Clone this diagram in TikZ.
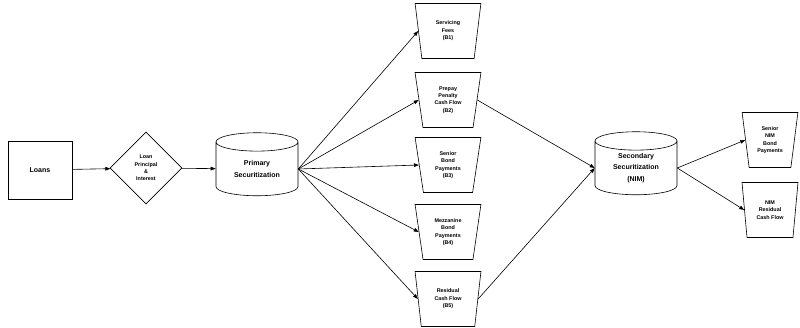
\documentclass[tikz,border=0pt]{standalone}
\usepackage{fontspec}
\setmainfont{Liberation Sans}
\usetikzlibrary{shapes.geometric, arrows.meta}

\tikzset{
  every node/.style={font=\bfseries, align=center, line width=0.6pt},
  bigtext/.style={font=\bfseries\fontsize{7}{11.5}\selectfont},
  smalltext/.style={font=\bfseries\fontsize{5.4}{7.4}\selectfont},
  box/.style={draw, rectangle, minimum width=64pt, minimum height=58pt, bigtext},
  diam/.style={draw, diamond, minimum width=72pt, minimum height=72pt, inner sep=0pt, smalltext},
  cyl/.style={draw, cylinder, shape border rotate=90, aspect=0.4,
    minimum width=82pt, minimum height=63pt, inner sep=0pt, bigtext},
  trap/.style={draw, trapezium, shape border rotate=180, trapezium stretches=true,
    trapezium left angle=81, trapezium right angle=81,
    minimum width=66pt, minimum height=55pt, inner sep=0pt, smalltext},
  flow/.style={line width=0.6pt, -{Triangle[length=5pt,width=3.6pt]}}
}

\begin{document}
\begin{tikzpicture}[x=1pt, y=-1pt]
  \useasboundingbox (0,0) rectangle (800,328);
  % left part
  \node[box] (loans) at (40,170) {Loans};
  \node[diam] (lpi) at (146,168) {Loan\\Principal\\\&\\Interest};
  \node[cyl] (primary) at (257,169) {Primary\\Securitization};
  % bonds of the primary deal
  \node[trap] (fees) at (448,31) {Servicing\\Fees\\(B1)};
  \node[trap] (prepay) at (448,100) {Prepay\\Penalty\\Cash Flow\\(B2)};
  \node[trap] (senior) at (448,165) {Senior\\Bond\\Payments\\(B3)};
  \node[trap] (mezz) at (448,232) {Mezzanine\\Bond\\Payments\\(B4)};
  \node[trap] (resid) at (448,299) {Residual\\Cash Flow\\(B5)};
  % NIM deal
  \node[cyl] (nim) at (636,168) {Secondary\\Securitization\\(NIM)};
  \node[trap, minimum width=56pt] (nimsenior) at (770,140) {Senior\\NIM\\Bond\\Payments};
  \node[trap, minimum width=56pt] (nimresid) at (770,210) {NIM\\Residual\\Cash Flow};

  \draw[flow] (loans) -- (lpi);
  \draw[flow] (lpi) -- (primary);
  \foreach \b in {fees, prepay, senior, mezz, resid}
    \draw[flow] (primary.east) -- (\b.west);
  \draw[flow] (prepay.east) -- (nim.west);
  \draw[flow] (resid.east) -- (nim.west);
  \draw[flow] (nim.east) -- (nimsenior.west);
  \draw[flow] (nim.east) -- (nimresid.west);
\end{tikzpicture}
\end{document}
